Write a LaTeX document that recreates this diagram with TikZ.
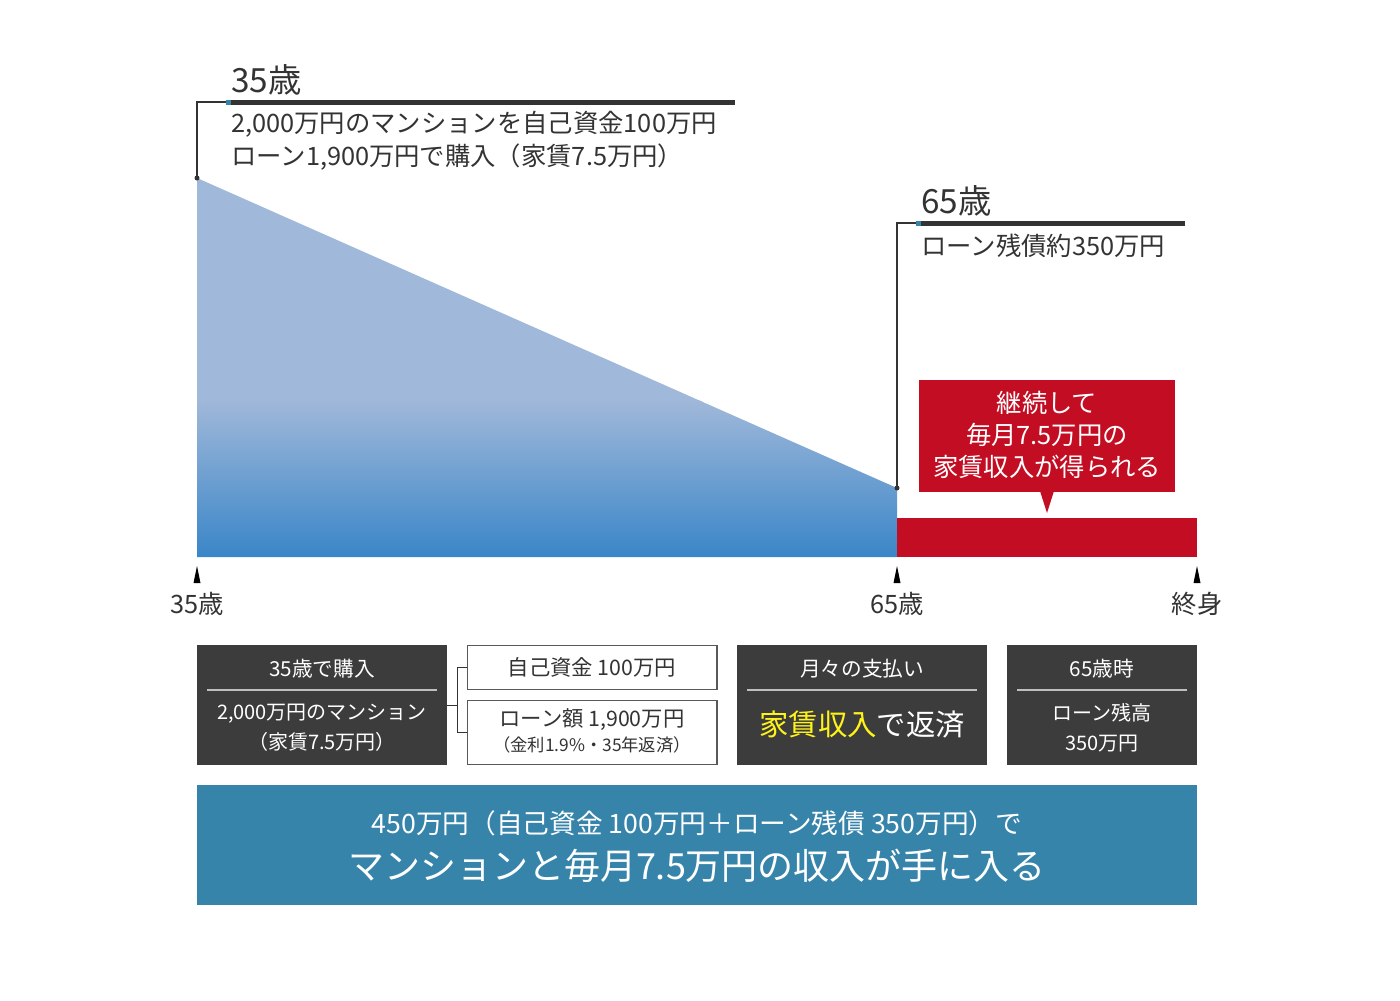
\documentclass[tikz,border=0pt]{standalone}
\usepackage{fontspec}
\setmainfont{Noto Sans CJK JP}
\begin{document}
\begin{tikzpicture}[x=0.75pt,y=-0.75pt,
  darkbox/.style={fill=boxdark,draw=none},
  wbox/.style={draw=gray!70!black,line width=0.8pt,fill=white},
  lbl/.style={inner sep=0pt,text=txt},
  tick/.style={fill=black}]
\definecolor{lightb}{HTML}{A0B8D9}
\definecolor{darkb}{HTML}{3A86C8}
\definecolor{redc}{HTML}{C30D23}
\definecolor{boxdark}{HTML}{3C3C3C}
\definecolor{bluebox}{HTML}{3784AB}
\definecolor{txt}{HTML}{333333}
\definecolor{accent}{HTML}{3784AB}
\useasboundingbox (0,0) rectangle (1400,1000);
% area
\begin{scope}
\clip (197,178) -- (897,488) -- (897,557) -- (197,557) -- cycle;
\fill[lightb] (197,170) rectangle (897,402);
\shade[top color=lightb,bottom color=darkb] (197,400) rectangle (897,557);
\end{scope}
\fill[redc] (897,518) rectangle (1197,557);
\coordinate (p35) at (197,178);
\coordinate (p65) at (897,488);
\fill[txt] (p35) circle (2.5);
\fill[txt] (p65) circle (2.5);
\draw[txt,line width=0.8pt] (p35) -- (197,102) -- (226,102);
\draw[txt,line width=0.8pt] (p65) -- (897,223) -- (916,223);
\fill[txt] (226,100) rectangle (735,104.5);
\fill[accent] (226,100) rectangle (231,104.5);
\fill[txt] (916,221) rectangle (1185,225.5);
\fill[accent] (916,221) rectangle (921,225.5);
\node[lbl,anchor=west,font=\fontsize{25}{25}\selectfont] (t35) at (231,80) {35歳};
\node[lbl,anchor=north west,align=left,font=\fontsize{19}{24.5}\selectfont] (d35) at (231,111) {2,000万円のマンションを自己資金100万円\\ローン1,900万円で購入（家賃7.5万円）};
\node[lbl,anchor=west,font=\fontsize{25}{25}\selectfont] (t65) at (921,201) {65歳};
\node[lbl,anchor=west,font=\fontsize{19}{24}\selectfont] (d65) at (921,246) {ローン残債約350万円};
% callout
\fill[redc] (919,380) rectangle (1175,492);
\fill[redc] (1040,491) -- (1054,491) -- (1047,513) -- cycle;
\node[lbl,text=white,align=center,font=\fontsize{19}{24}\selectfont] (call) at (1047,435) {継続して\\毎月7.5万円の\\家賃収入が得られる};
% ticks
\foreach \x/\n/\t in {197/a/35歳,897/b/65歳,1197/c/終身}{
  \fill (\x-3.5,583) -- (\x+3.5,583) -- (\x,566) -- cycle;
  \node[lbl,font=\fontsize{19}{19}\selectfont] (tk\n) at (\x,604) {\t};
}
% boxes
\fill[boxdark] (197,645) rectangle (447,765);
\draw[white!75!black,line width=0.8pt] (207,690) -- (437,690);
\node[lbl,text=white,font=\fontsize{15.5}{15.5}\selectfont] (b1a) at (322,669) {35歳で購入};
\node[lbl,text=white,align=center,font=\fontsize{15}{22.5}\selectfont] (b1b) at (322,728) {2,000万円のマンション\\（家賃7.5万円）};
\draw[wbox] (467.5,645.5) rectangle (717,689.5);
\draw[wbox] (467.5,700.5) rectangle (717,764.5);
\node[lbl,font=\fontsize{16}{16}\selectfont] (b2) at (592,667) {自己資金 100万円};
\node[lbl,align=center,font=\fontsize{16}{16}\selectfont] (b3) at (592,720) {ローン額 1,900万円};
\node[lbl,font=\fontsize{13}{13}\selectfont] (b3s) at (592,745) {（金利1.9\%・35年返済）};
\draw[txt,line width=0.7pt] (447,705) -- (457,705) (457,667) -- (457,732) (457,667) -- (467,667) (457,732) -- (467,732);
\fill[boxdark] (737,645) rectangle (987,765);
\draw[white!75!black,line width=0.8pt] (747,690) -- (977,690);
\node[lbl,text=white,font=\fontsize{15.5}{15.5}\selectfont] (b4a) at (862,669) {月々の支払い};
\node[lbl,text=white,font=\fontsize{22}{22}\selectfont] (b4b) at (862,724) {\textcolor{yellow!90!white}{家賃収入}で返済};
\fill[boxdark] (1007,645) rectangle (1197,765);
\draw[white!75!black,line width=0.8pt] (1017,690) -- (1187,690);
\node[lbl,text=white,font=\fontsize{15.5}{15.5}\selectfont] (b5a) at (1102,669) {65歳時};
\node[lbl,text=white,align=center,font=\fontsize{15}{22.5}\selectfont] (b5b) at (1102,728) {ローン残高\\350万円};
\fill[bluebox] (197,785) rectangle (1197,905);
\node[lbl,text=white,font=\fontsize{20}{20}\selectfont] (f1) at (697,823) {450万円（自己資金 100万円＋ローン残債 350万円）で};
\node[lbl,text=white,font=\fontsize{27}{27}\selectfont] (f2) at (697,866) {マンションと毎月7.5万円の収入が手に入る};
\end{tikzpicture}
\end{document}
